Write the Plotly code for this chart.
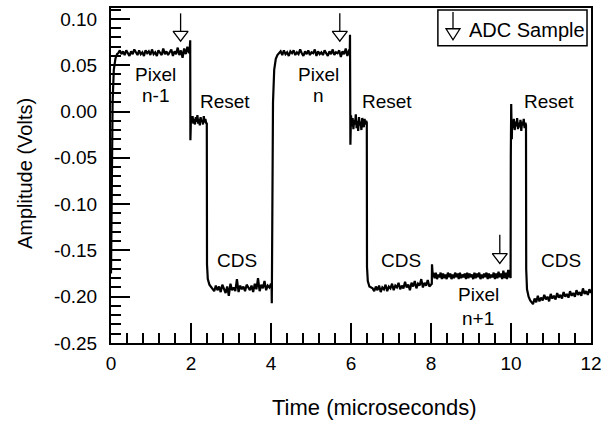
import numpy as np
import plotly.graph_objects as go

# ---------------- data ----------------
# transitions (explicit samples)
edge0_t = [0.00, 0.02, 0.04, 0.07, 0.11, 0.15]
edge0_v = [-0.175, -0.060, 0.010, 0.045, 0.057, 0.062]
edge1_t = [1.97, 1.98, 1.985, 1.99]
edge1_v = [0.068, 0.077, -0.031, -0.006]
edge2_t = [2.395, 2.40, 2.42, 2.46, 2.50]
edge2_v = [-0.012, -0.165, -0.181, -0.187, -0.189]
edge3_t = [4.015, 4.02, 4.03, 4.05, 4.08, 4.12, 4.16]
edge3_v = [-0.190, -0.207, -0.120, 0.010, 0.045, 0.057, 0.061]
edge4_t = [5.97, 5.975, 5.985, 5.995]
edge4_v = [0.066, 0.083, -0.036, -0.008]
edge5_t = [6.395, 6.40, 6.42, 6.46, 6.50]
edge5_v = [-0.012, -0.168, -0.183, -0.189, -0.190]
edge6_t = [8.02, 8.025, 8.04]
edge6_v = [-0.186, -0.165, -0.175]
edge7_t = [9.975, 9.99, 9.995, 10.005, 10.02]
edge7_v = [-0.171, -0.180, -0.050, 0.008, -0.030]
edge8_t = [10.375, 10.38, 10.40, 10.44, 10.48, 10.52]
edge8_v = [-0.015, -0.170, -0.192, -0.200, -0.204, -0.206]

# noisy plateaus: span (start, end) and the samples read along it
pix_nm1_span = (0.18, 1.95)
pix_nm1_v = [0.063, 0.066, 0.062, 0.065, 0.061, 0.066, 0.063, 0.060, 0.065, 0.062, 0.067, 0.063,
             0.061, 0.066, 0.062, 0.064, 0.060, 0.066, 0.063, 0.065, 0.061, 0.067, 0.062, 0.064,
             0.060, 0.066, 0.063, 0.061, 0.068, 0.062, 0.065, 0.061, 0.064, 0.067, 0.060, 0.065,
             0.062, 0.069, 0.061, 0.066, 0.058, 0.068, 0.062, 0.070, 0.063]
reset1_span = (2.00, 2.38)
reset1_v = [-0.006, -0.012, -0.005, -0.013, -0.008, -0.014, -0.006, -0.011, -0.004, -0.013,
            -0.008, -0.015, -0.006, -0.011, -0.009, -0.014, -0.005, -0.012, -0.008, -0.013]
cds1_span = (2.54, 4.00)
cds1_v = [-0.191, -0.194, -0.188, -0.193, -0.189, -0.195, -0.187, -0.192, -0.196, -0.189,
          -0.199, -0.186, -0.193, -0.190, -0.194, -0.181, -0.195, -0.188, -0.192, -0.189,
          -0.194, -0.187, -0.191, -0.193, -0.188, -0.195, -0.186, -0.192, -0.180, -0.194,
          -0.187, -0.191, -0.183, -0.193, -0.188, -0.190, -0.186]
pix_n_span = (4.20, 5.95)
pix_n_v = [0.063, 0.065, 0.061, 0.066, 0.062, 0.064, 0.060, 0.065, 0.063, 0.066, 0.061, 0.064,
           0.062, 0.067, 0.063, 0.060, 0.065, 0.062, 0.066, 0.061, 0.064, 0.063, 0.067, 0.060,
           0.065, 0.062, 0.064, 0.061, 0.066, 0.063, 0.060, 0.065, 0.062, 0.067, 0.061, 0.064,
           0.063, 0.066, 0.059, 0.065, 0.062, 0.068, 0.060, 0.066]
reset2_span = (6.00, 6.38)
reset2_v = [-0.004, -0.016, -0.007, -0.019, -0.009, -0.014, -0.003, -0.018, -0.010, -0.021,
            -0.006, -0.015, -0.011, -0.020, -0.007, -0.013, -0.017, -0.008, -0.014, -0.010]
cds2_span = (6.54, 8.00)
cds2_v = [-0.191, -0.194, -0.189, -0.193, -0.188, -0.195, -0.190, -0.192, -0.187, -0.194,
          -0.189, -0.191, -0.186, -0.193, -0.188, -0.190, -0.185, -0.192, -0.188, -0.191,
          -0.184, -0.190, -0.187, -0.193, -0.185, -0.189, -0.183, -0.191, -0.186, -0.188,
          -0.181, -0.190, -0.185, -0.188, -0.182, -0.189, -0.186]
pix_np1_span = (8.06, 9.96)
pix_np1_v = [-0.175, -0.180, -0.174, -0.181, -0.176, -0.179, -0.174, -0.181, -0.175, -0.180,
             -0.176, -0.181, -0.174, -0.179, -0.175, -0.181, -0.176, -0.180, -0.174, -0.179,
             -0.175, -0.181, -0.174, -0.180, -0.176, -0.179, -0.175, -0.181, -0.174, -0.180,
             -0.175, -0.179, -0.176, -0.181, -0.174, -0.180, -0.175, -0.179, -0.174, -0.181,
             -0.176, -0.180, -0.175, -0.179, -0.174, -0.181, -0.175, -0.180, -0.176, -0.179,
             -0.174, -0.181, -0.175, -0.180, -0.173, -0.179, -0.175, -0.181, -0.172, -0.180,
             -0.174, -0.181, -0.171, -0.179]
reset3_span = (10.03, 10.36)
reset3_v = [-0.010, -0.018, -0.008, -0.020, -0.011, -0.016, -0.007, -0.019, -0.012, -0.017,
            -0.009, -0.021, -0.011, -0.015, -0.008, -0.018, -0.012]
cds3_span = (10.55, 12.00)
cds3_v = [-0.208, -0.202, -0.206, -0.199, -0.205, -0.201, -0.204, -0.198, -0.203, -0.200,
          -0.205, -0.197, -0.202, -0.199, -0.203, -0.196, -0.201, -0.198, -0.202, -0.195,
          -0.200, -0.197, -0.201, -0.194, -0.199, -0.196, -0.200, -0.193, -0.198, -0.195,
          -0.199, -0.191, -0.197, -0.194, -0.198, -0.192, -0.196]

# ADC sample markers
adc_t = [1.74, 5.72, 9.72]
adc_top = [0.106, 0.106, -0.133]
adc_tip = [0.076, 0.076, -0.164]

# text labels
label_text = ["Pixel", "n-1", "Reset", "CDS", "Pixel", "n", "Reset", "CDS",
              "Pixel", "n+1", "Reset", "CDS"]
label_t = [1.10, 1.10, 2.85, 3.16, 5.19, 5.19, 6.91, 7.25, 9.18, 9.18, 10.96, 11.26]
label_v = [0.040, 0.017, 0.0105, -0.161, 0.040, 0.017, 0.0105, -0.161,
           -0.198, -0.224, 0.0105, -0.161]

x_tickvals = [0, 2, 4, 6, 8, 10, 12]
x_ticktext = ["0", "2", "4", "6", "8", "10", "12"]
y_tickvals = [-0.25, -0.20, -0.15, -0.10, -0.05, 0.00, 0.05, 0.10]
y_ticktext = ["-0.25", "-0.20", "-0.15", "-0.10", "-0.05", "0.00", "0.05", "0.10"]

# ---------------- build trace ----------------
def plateau(span, vals):
    return list(np.linspace(span[0], span[1], len(vals))), list(vals)

parts = [
    (edge0_t, edge0_v), plateau(pix_nm1_span, pix_nm1_v),
    (edge1_t, edge1_v), plateau(reset1_span, reset1_v),
    (edge2_t, edge2_v), plateau(cds1_span, cds1_v),
    (edge3_t, edge3_v), plateau(pix_n_span, pix_n_v),
    (edge4_t, edge4_v), plateau(reset2_span, reset2_v),
    (edge5_t, edge5_v), plateau(cds2_span, cds2_v),
    (edge6_t, edge6_v), plateau(pix_np1_span, pix_np1_v),
    (edge7_t, edge7_v), plateau(reset3_span, reset3_v),
    (edge8_t, edge8_v), plateau(cds3_span, cds3_v),
]
trace_t, trace_v = [], []
for pt, pv in parts:
    trace_t += list(pt)
    trace_v += list(pv)

W, H = 609, 423
ML, MR, MT, MB = 111, 18, 6, 80
x_range = [0, 12]
y_range = [-0.25, 0.1118]
plot_h = H - MT - MB
ppu_y = plot_h / (y_range[1] - y_range[0])

FONT = "Liberation Sans, Arial, Helvetica, sans-serif"

fig = go.Figure()
fig.add_trace(go.Scatter(x=trace_t, y=trace_v, mode="lines",
                         line=dict(color="black", width=2.2), hoverinfo="skip",
                         showlegend=False))

# ADC arrows: stems + open triangles
stem_x, stem_y = [], []
for t, top, tip in zip(adc_t, adc_top, adc_tip):
    stem_x += [t, t, None]
    stem_y += [top, tip, None]
fig.add_trace(go.Scatter(x=stem_x, y=stem_y, mode="lines",
                         line=dict(color="black", width=1.3), showlegend=False,
                         hoverinfo="skip"))
msize = 13
marker_y = [tip + (msize / 2) / ppu_y for tip in adc_tip]
fig.add_trace(go.Scatter(x=adc_t, y=marker_y, mode="markers",
                         marker=dict(symbol="triangle-down", size=msize, color="white",
                                     line=dict(color="black", width=1.3)),
                         showlegend=False, hoverinfo="skip"))

for txt, t, v in zip(label_text, label_t, label_v):
    fig.add_annotation(x=t, y=v, text=txt, showarrow=False,
                       font=dict(family=FONT, size=19, color="black"),
                       xanchor="center", yanchor="middle")

# legend box ("ADC Sample")
fig.add_shape(type="rect", xref="paper", yref="paper", x0=0.681, x1=0.9917,
              y0=0.8872, y1=0.9941, line=dict(color="black", width=1.5),
              fillcolor="white", layer="above")
lx = 0.7125
fig.add_shape(type="line", xref="paper", yref="paper", x0=lx, x1=lx, y0=0.988, y1=0.93,
              line=dict(color="black", width=1.3), layer="above")
hw = 7 / (W - ML - MR)
fig.add_shape(type="path", xref="paper", yref="paper",
              path=f"M {lx-hw},0.938 L {lx+hw},0.938 L {lx},0.905 Z",
              line=dict(color="black", width=1.3), fillcolor="white", layer="above")
fig.add_annotation(xref="paper", yref="paper", x=0.7417, y=0.9347, text="ADC Sample",
                   showarrow=False, xanchor="left", yanchor="middle",
                   font=dict(family=FONT, size=20, color="black"))

# axis titles
fig.add_annotation(xref="paper", yref="paper", x=0.548, y=-0.193,
                   text="Time (microseconds)", showarrow=False,
                   xanchor="center", yanchor="middle",
                   font=dict(family=FONT, size=22, color="black"))
fig.add_annotation(xref="paper", yref="paper", x=-0.179, y=0.5045,
                   text="Amplitude (Volts)", showarrow=False, textangle=-90,
                   xanchor="center", yanchor="middle",
                   font=dict(family=FONT, size=20, color="black"))

fig.update_layout(
    width=W, height=H,
    margin=dict(l=ML, r=MR, t=MT, b=MB),
    paper_bgcolor="white", plot_bgcolor="white",
    font=dict(family=FONT, size=19, color="black"),
    showlegend=False,
    xaxis=dict(range=x_range, tickvals=x_tickvals, ticktext=x_ticktext,
               ticks="inside", ticklen=20, tickwidth=1.5, tickcolor="black",
               showline=True, linecolor="black", linewidth=2, mirror=True,
               showgrid=False, zeroline=False, ticklabelstandoff=2,
               tickfont=dict(size=19),
               minor=dict(tick0=0, dtick=0.4, ticks="inside", ticklen=10,
                          tickwidth=1.5, tickcolor="black", showgrid=False)),
    yaxis=dict(range=y_range, tickvals=y_tickvals, ticktext=y_ticktext,
               ticks="inside", ticklen=19, tickwidth=1.5, tickcolor="black",
               showline=True, linecolor="black", linewidth=2, mirror=True,
               showgrid=False, zeroline=False, ticklabelstandoff=8,
               tickfont=dict(size=19),
               minor=dict(tick0=0, dtick=0.01, ticks="inside", ticklen=10,
                          tickwidth=1.5, tickcolor="black", showgrid=False)),
)

fig.write_html("out.html", config={"displayModeBar": False},
               post_script="document.body.style.margin='0';document.body.style.padding='0';")
